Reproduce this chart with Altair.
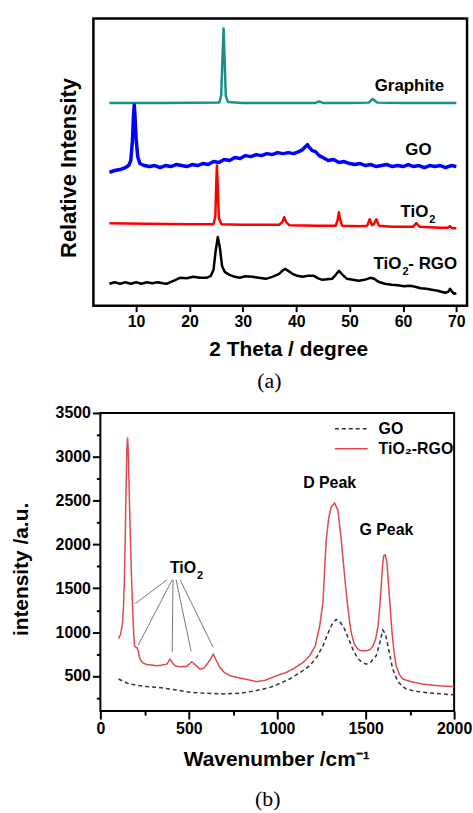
import altair as alt
import pandas as pd

SANS = "Liberation Sans"
SERIF = "Liberation Serif"

# ---------------- (a) XRD patterns (stacked, arbitrary units) ----------------
graphite_x = [5, 15, 25.6, 25.95, 26.15, 26.39, 26.6, 26.8, 27.2, 30, 40, 43.6, 44.3, 45.0, 50, 53.6, 54.0, 54.35, 54.7, 55.2, 60, 65, 70]
graphite_y = [204, 204, 204.5, 212, 245, 279, 245, 211, 205, 204, 204, 204, 205.5, 204, 204, 204.3, 206.5, 208, 206.5, 204.3, 204, 204, 204]

go_x = [5, 6, 7, 8, 8.6, 9.0, 9.3, 9.5, 9.65, 9.8, 10.0, 10.3, 10.7, 11.5, 12.5, 13.5, 14.5, 15.5, 16.5, 17.5,
        18.5, 19.5, 20.5, 21.5, 22.5, 23.5, 24.5, 25.5, 26.5, 27.5, 28.5, 29.5, 30.5, 31.5, 32.5, 33.5, 34.5,
        35.5, 36.5, 37.5, 38.5, 39.5, 40.5, 41.2, 41.7, 42.1, 42.5, 43.0, 43.6, 44.3, 45.0, 46.0, 47.0, 48.0,
        49.0, 50.0, 51.0, 52.0, 53.0, 54.0, 55.0, 56.0, 57.0, 58.0, 59.0, 60.0, 61.0, 62.0, 63.0, 64.0, 65.0,
        66.0, 67.0, 68.0, 69.0, 70.0]
go_y = [134, 136, 137, 139, 141, 146, 165, 190, 202, 190, 168, 150, 143, 141, 140, 141, 139, 141, 140, 142,
        141, 140, 142, 141, 143, 142, 145, 144, 147, 146, 149, 148, 151, 150, 152, 151, 153,
        152, 154, 153, 154, 153, 155, 157, 160, 162, 159, 156, 155, 151, 149, 146, 147, 144,
        145, 143, 142, 143, 141, 142, 140, 141, 142, 140, 141, 140, 142, 140, 141, 139, 141,
        140, 141, 139, 141, 140]

tio2_x = [5, 12, 20, 24.5, 24.85, 25.0, 25.14, 25.3, 25.5, 26.0, 30, 36.8, 37.4, 37.75, 38.1, 38.7, 44, 47.4,
          47.75, 47.99, 48.25, 48.6, 52, 53.3, 53.76, 54.2, 54.55, 55.0, 55.5, 58, 61.9, 62.5, 63.1, 67, 68.4,
          68.8, 69.2, 70]
tio2_y = [83, 82.5, 82, 82, 90, 120, 141, 118, 88, 82, 81.5, 81.5, 84, 89, 84, 81, 80.5, 80.5,
          86, 94, 86, 80.5, 80, 80.5, 87, 81, 82, 87, 80.5, 79.5, 79.5, 83, 79.5, 78.5, 78.5,
          80, 78, 78]

rgo_x = [5, 6, 7, 8, 9, 10, 11, 12, 13, 14, 15, 15.7, 16.5, 17, 18.2, 19.5, 20.7, 22, 23.2, 24.0, 24.5, 24.9,
         25.3, 25.7, 26.1, 26.6, 27.5, 28.5, 29.4, 30.5, 31.8, 33, 34.3, 35.5, 36.8, 37.4, 37.9, 38.5, 39.3,
         40.2, 41.2, 42.2, 43.3, 44.1, 44.9, 45.8, 46.7, 47.4, 48.0, 48.7, 49.5, 50.6, 51.7, 52.8, 53.9, 54.6,
         55.4, 56.6, 57.9, 59.0, 60.2, 61.3, 62.3, 63.3, 64.4, 65.4, 66.5, 67.9, 68.5, 68.8, 69.2, 69.6, 70]
rgo_y = [22, 23.5, 22, 23.5, 22, 23.5, 22, 23.5, 22.5, 23.5, 22.5, 22, 24, 25, 28, 27.5, 29, 28, 28, 30, 36, 55,
         69, 58, 40, 34, 31, 29, 28, 29.5, 29, 28, 27, 29, 32, 35, 37, 35, 32,
         30, 29, 30, 30, 27.5, 26, 26.5, 27, 31, 35, 31, 27, 26, 25, 26, 28, 27,
         24, 22, 21, 20.5, 19.5, 20, 19, 17.5, 17, 16, 15, 13, 14, 17, 14, 12, 12.5]

xrd_names = ["Graphite", "GO", "TiO2", "TiO2-RGO"]
xrd_colors = ["#16908a", "#0000ff", "#ff0000", "#000000"]
xrd_widths = [2.5, 3.5, 2.5, 2.5]
xrd_xs = [graphite_x, go_x, tio2_x, rgo_x]
xrd_ys = [graphite_y, go_y, tio2_y, rgo_y]

# labels in panel (a)
a_center_text = ["Graphite", "GO"]
a_center_x = [61.2, 62.9]
a_center_y = [221, 157]
a_tio_x = [64.75, 59.7]
a_tio_y = [94, 42]
a_suffix_text = ["- RGO"]
a_suffix_x = [59.7]
a_suffix_y = [42]

# ---------------- (b) Raman spectra ----------------
rgo_raman_x = [103, 115, 125, 131, 136, 141, 146, 150, 154, 158, 163, 169, 175, 182, 188, 193, 200, 207, 213, 220,
               228, 240, 263, 290, 319, 350, 376, 394, 408, 423, 450, 488, 505, 517, 530, 563, 585, 605, 625, 639,
               655, 675, 700, 732, 780, 830, 883, 930, 996, 1050, 1089, 1146, 1183, 1215, 1240, 1258, 1277, 1291,
               1305, 1324, 1343, 1362, 1376, 1390, 1404, 1418, 1435, 1455, 1475, 1503, 1525, 1540, 1556, 1570,
               1580, 1588, 1595, 1602, 1610, 1620, 1630, 1640, 1649, 1660, 1672, 1690, 1709, 1747, 1780, 1822,
               1878, 1940, 2000]
rgo_raman_y = [926, 980, 1100, 1296, 1600, 2129, 2700, 3100, 3220, 3050, 2600, 2129, 1700, 1296, 1000, 843, 830,
               825, 790, 720, 680, 650, 630, 625, 617, 625, 636, 692, 650, 617, 605, 610, 640, 661, 640, 579,
               590, 640, 700, 749, 680, 600, 542, 503, 480, 460, 436, 450, 503, 540, 579, 655, 730, 843, 1070,
               1334, 2051, 2300, 2428, 2473, 2390, 2051, 1750, 1447, 1200, 995, 870, 806, 787, 787, 800, 836,
               920, 1070, 1300, 1522, 1750, 1870, 1881, 1800, 1522, 1250, 995, 780, 617, 520, 466, 440, 425,
               408, 395, 385, 379]

go_raman_x = [103, 150, 200, 260, 319, 400, 507, 600, 695, 800, 883, 960, 1020, 1070, 1130, 1183, 1225, 1258,
              1285, 1310, 1333, 1352, 1375, 1400, 1427, 1455, 1480, 1503, 1530, 1559, 1578, 1596, 1612, 1630,
              1653, 1680, 1709, 1728, 1770, 1822, 1900, 2000]
go_raman_y = [466, 420, 395, 380, 372, 350, 315, 303, 296, 305, 334, 370, 420, 466, 540, 617, 720, 843,
              980, 1090, 1145, 1126, 1060, 940, 806, 700, 655, 636, 660, 730, 860, 1024, 980, 800,
              579, 440, 380, 353, 330, 315, 300, 285]

raman_names = ["GO", "TiO\u2082-RGO"]
raman_colors = ["#333333", "#e0484c"]

peak_text = ["D Peak", "G Peak"]
peak_x = [1296, 1617]
peak_y = [2696, 2164]
tio_b_x = [541]
tio_b_y = [1734]
ptr_x1 = [377, 406, 411, 428, 451]
ptr_y1 = [1598, 1598, 1598, 1598, 1598]
ptr_x2 = [197, 214, 406, 513, 637]
ptr_y2 = [1326, 851, 772, 783, 828]

# ---------------- build panel (a) ----------------
def xa(field="x"):
    return alt.X(field, type="quantitative",
                 scale=alt.Scale(domain=[2, 72], nice=False, zero=False),
                 axis=alt.Axis(values=[10, 20, 30, 40, 50, 60, 70], title="2 Theta / degree", grid=False,
                               domain=False, ticks=True, tickSize=6, tickWidth=2, tickColor="black",
                               labelFont=SANS, labelFontSize=16, labelFontWeight="bold", labelColor="black",
                               labelPadding=2, labelFlush=False,
                               titleFont=SANS, titleFontSize=21, titleFontWeight="bold", titleColor="black",
                               titleX=196, titleY=44, titleBaseline="middle"))

def ya(field="y"):
    return alt.Y(field, type="quantitative",
                 scale=alt.Scale(domain=[0, 289], nice=False, zero=False),
                 axis=alt.Axis(title="Relative Intensity", labels=False, ticks=False, domain=False, grid=False,
                               titleFont=SANS, titleFontSize=22, titleFontWeight="bold", titleColor="black",
                               titleX=-25, titleY=150, titleBaseline="middle"))

frame_a = alt.Chart(pd.DataFrame({"x": [2], "x2": [72], "y": [0], "y2": [289]})).mark_rect(
    filled=False, stroke="black", strokeWidth=2.5).encode(x=xa(), x2="x2", y=ya(), y2="y2")

layers_a = [frame_a]
for name, col, w, xs, ys in zip(xrd_names, xrd_colors, xrd_widths, xrd_xs, xrd_ys):
    d = pd.DataFrame({"x": xs, "y": ys, "series": name})
    layers_a.append(alt.Chart(d).mark_line(color=col, strokeWidth=w, strokeJoin="round").encode(x=xa(), y=ya()))

lab_c = pd.DataFrame({"x": a_center_x, "y": a_center_y, "t": a_center_text})
layers_a.append(alt.Chart(lab_c).mark_text(font=SANS, fontSize=17, fontWeight="bold", color="black",
                                           align="center", baseline="middle").encode(x=xa(), y=ya(), text="t:N"))
lab_t = pd.DataFrame({"x": a_tio_x, "y": a_tio_y, "t": ["TiO"] * len(a_tio_x), "s": ["2"] * len(a_tio_x)})
layers_a.append(alt.Chart(lab_t).mark_text(font=SANS, fontSize=17, fontWeight="bold", color="black",
                                           align="right", baseline="middle").encode(x=xa(), y=ya(), text="t:N"))
layers_a.append(alt.Chart(lab_t).mark_text(font=SANS, fontSize=11, fontWeight="bold", color="black",
                                           align="left", baseline="middle", dx=1, dy=8).encode(x=xa(), y=ya(), text="s:N"))
lab_s = pd.DataFrame({"x": a_suffix_x, "y": a_suffix_y, "t": a_suffix_text})
layers_a.append(alt.Chart(lab_s).mark_text(font=SANS, fontSize=17, fontWeight="bold", color="black",
                                           align="left", baseline="middle", dx=7).encode(x=xa(), y=ya(), text="t:N"))

panel_a = alt.layer(*layers_a).properties(
    width=376, height=289,
    title=alt.TitleParams("(a)", orient="bottom", anchor="middle", frame="group", font=SERIF, fontSize=22,
                          fontWeight="normal", color="black", dx=-11, offset=12))

# ---------------- build panel (b) ----------------
tick_cond = {"condition": {"test": "datum.value % 500 === 0", "value": 8}, "value": 4}
lab_expr = "datum.value % 500 === 0 ? datum.label : ''"

def xb(field="x"):
    return alt.X(field, type="quantitative",
                 scale=alt.Scale(domain=[0, 2000], range=[7, 363], nice=False, zero=False),
                 axis=alt.Axis(values=list(range(0, 2001, 250)), format="d", labelExpr=lab_expr,
                               title="Wavenumber /cm\u207b\u00b9",
                               grid=False, domain=False, tickSize=tick_cond, tickWidth=2, tickColor="black",
                               labelFont=SANS, labelFontSize=16, labelFontWeight="bold", labelColor="black",
                               labelPadding=2, labelFlush=False, labelOverlap=False,
                               titleFont=SANS, titleFontSize=21, titleFontWeight="bold", titleColor="black",
                               titleX=184, titleY=49, titleBaseline="middle"))

def yb(field="y"):
    return alt.Y(field, type="quantitative",
                 scale=alt.Scale(domain=[100, 3500], nice=False, zero=False),
                 axis=alt.Axis(values=list(range(250, 3501, 250)), format="d", labelExpr=lab_expr,
                               title="intensity /a.u.",
                               grid=False, domain=False, offset=-7, tickSize=tick_cond, tickWidth=2,
                               tickColor="black", labelFont=SANS, labelFontSize=16, labelFontWeight="bold",
                               labelColor="black", labelPadding=2, labelOverlap=False,
                               titleFont=SANS, titleFontSize=21, titleFontWeight="bold", titleColor="black",
                               titleX=-79.5, titleY=157, titleBaseline="middle"))

frame_b = alt.Chart(pd.DataFrame({"x": [0], "x2": [2000], "y": [100], "y2": [3500]})).mark_rect(
    filled=False, stroke="black", strokeWidth=2).encode(x=xb(), x2="x2", y=yb(), y2="y2")

legend_b = alt.Legend(orient="none", legendX=242, legendY=8, title=None, symbolType="stroke",
                      symbolSize=1089, symbolStrokeWidth=1.5, labelFont=SANS, labelFontSize=16,
                      labelFontWeight="bold", labelColor="black", labelOffset=10, rowPadding=4,
                      clipHeight=16)

raman_df = pd.concat([
    pd.DataFrame({"x": go_raman_x, "y": go_raman_y, "series": raman_names[0]}),
    pd.DataFrame({"x": rgo_raman_x, "y": rgo_raman_y, "series": raman_names[1]}),
])
lines_b = alt.Chart(raman_df).mark_line(strokeWidth=1.5).encode(
    x=xb(), y=yb(),
    color=alt.Color("series:N", scale=alt.Scale(domain=raman_names, range=raman_colors), legend=legend_b),
    strokeDash=alt.StrokeDash("series:N", scale=alt.Scale(domain=raman_names, range=[[4, 3], [1, 0]]),
                              legend=legend_b),
)

ptr_df = pd.DataFrame({"x": ptr_x1, "y": ptr_y1, "x2": ptr_x2, "y2": ptr_y2})
ptr_b = alt.Chart(ptr_df).mark_rule(color="#777777", strokeWidth=1).encode(x=xb(), y=yb(), x2="x2", y2="y2")

pk_df = pd.DataFrame({"x": peak_x, "y": peak_y, "t": peak_text})
pk_b = alt.Chart(pk_df).mark_text(font=SANS, fontSize=16, fontWeight="bold", color="black",
                                  align="center", baseline="middle").encode(x=xb(), y=yb(), text="t:N")
tio_df = pd.DataFrame({"x": tio_b_x, "y": tio_b_y, "t": ["TiO"], "s": ["2"]})
tio_b = alt.Chart(tio_df).mark_text(font=SANS, fontSize=16, fontWeight="bold", color="black",
                                    align="right", baseline="middle").encode(x=xb(), y=yb(), text="t:N")
tio_b2 = alt.Chart(tio_df).mark_text(font=SANS, fontSize=11, fontWeight="bold", color="black",
                                     align="left", baseline="middle", dx=1, dy=8).encode(x=xb(), y=yb(), text="s:N")

panel_b = alt.layer(frame_b, ptr_b, lines_b, pk_b, tio_b, tio_b2).properties(
    width=363, height=300,
    title=alt.TitleParams("(b)", orient="bottom", anchor="middle", frame="group", font=SERIF, fontSize=22,
                          fontWeight="normal", color="black", dx=-6, offset=20))

chart = alt.vconcat(panel_a, panel_b, spacing=11).resolve_legend(
    color="independent", strokeDash="independent"
).properties(
    padding={"left": 10, "top": 14, "right": 0, "bottom": 0},
    background="white",
).configure_view(stroke="transparent")

chart.save("out.html", embed_options={"renderer": "svg", "actions": False})
